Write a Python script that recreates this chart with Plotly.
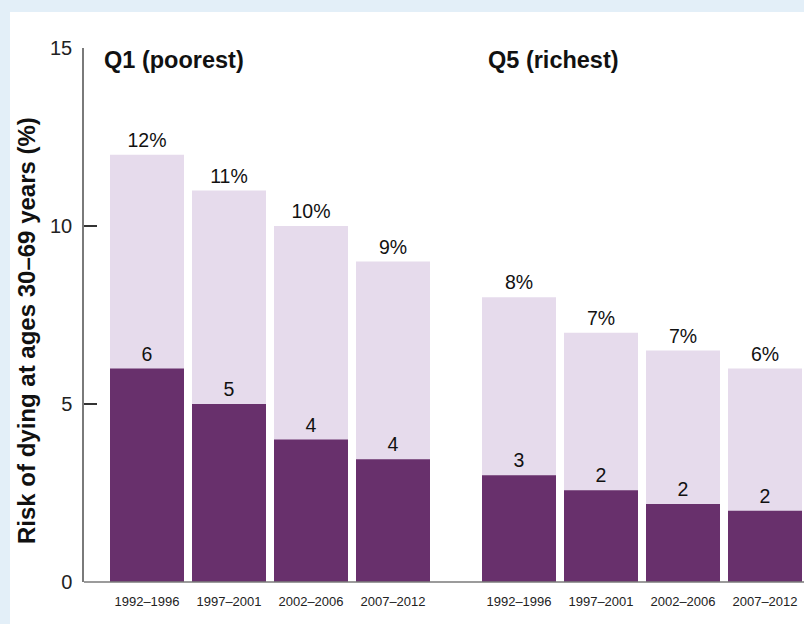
import plotly.graph_objects as go

periods = ["1992–1996", "1997–2001", "2002–2006", "2007–2012"]
q1_total = [12, 11, 10, 9]
q1_total_labels = ["12%", "11%", "10%", "9%"]
q1_dark = [6.0, 5.0, 4.0, 3.45]
q1_dark_labels = ["6", "5", "4", "4"]
q5_total = [8, 7, 6.5, 6]
q5_total_labels = ["8%", "7%", "7%", "6%"]
q5_dark = [3.0, 2.58, 2.19, 2.0]
q5_dark_labels = ["3", "2", "2", "2"]
group_names = ["Q1 (poorest)", "Q5 (richest)"]
y_title = "Risk of dying at ages 30–69 years (%)"

LIGHT = "#E6DBEC"
DARK = "#68306C"
BG = "#E3EFF8"
FONT = "Liberation Sans, Arial, sans-serif"
AXIS = "#7A7A7A"

W, H = 804, 624
L, R, T, B = 84, 0, 48, 42
pw, ph = W - L - R, H - T - B


def px_x(p):
    return (p - L) / pw


def px_y(p):
    return (H - B - p) / ph


fig = go.Figure()

groups = [
    ("x", q1_total, q1_total_labels, q1_dark, q1_dark_labels),
    ("x2", q5_total, q5_total_labels, q5_dark, q5_dark_labels),
]
for xa, tot, tot_lab, dark, dark_lab in groups:
    fig.add_trace(go.Bar(x=periods, y=tot, marker=dict(color=LIGHT, line=dict(width=0)),
                         xaxis=xa, yaxis="y", hoverinfo="skip", showlegend=False))
    fig.add_trace(go.Bar(x=periods, y=dark, marker=dict(color=DARK, line=dict(width=0)),
                         xaxis=xa, yaxis="y", hoverinfo="skip", showlegend=False))
    for vals, labs in ((tot, tot_lab), (dark, dark_lab)):
        fig.add_trace(go.Scatter(x=periods, y=vals, mode="markers+text", text=labs,
                                 textposition="top center",
                                 marker=dict(size=3, opacity=0),
                                 textfont=dict(family=FONT, size=19.5, color="#111"),
                                 xaxis=xa, yaxis="y", hoverinfo="skip", showlegend=False))

slot = 82.0
x1_left_pad = (434 - L) / slot - 4  # extra slots left of first category
fig.update_layout(
    width=W, height=H,
    margin=dict(l=L, r=R, t=T, b=B, pad=0),
    paper_bgcolor=BG, plot_bgcolor="rgba(0,0,0,0)",
    barmode="overlay", bargap=8 / 82,
    font=dict(family=FONT, color="#222"),
    xaxis=dict(domain=[0, px_x(434)], range=[-0.5 - x1_left_pad, 3.5],
               showline=False, showgrid=False, zeroline=False, ticks="",
               tickfont=dict(size=13, color="#222"), ticklabelstandoff=10,
               anchor="y", fixedrange=True),
    xaxis2=dict(domain=[px_x(478), 1], range=[-0.5, 3.5 - 2 / slot],
                showline=False, showgrid=False, zeroline=False, ticks="",
                tickfont=dict(size=13, color="#222"), ticklabelstandoff=10,
                anchor="y", fixedrange=True),
    yaxis=dict(range=[0, 15], tickvals=[0, 5, 10, 15], showgrid=False, zeroline=False,
               showline=True, linecolor=AXIS, linewidth=1.5,
               ticks="inside", ticklen=13, tickwidth=1.5, tickcolor="#333",
               tickfont=dict(size=20, color="#222"), ticklabelstandoff=6,
               anchor="x", fixedrange=True),
)

# white panel
fig.add_shape(type="rect", xref="paper", yref="paper",
              x0=px_x(10), x1=px_x(W + 5), y0=px_y(H + 5), y1=px_y(12),
              fillcolor="white", line=dict(width=0), layer="below")
# continuous x axis baseline
fig.add_shape(type="line", xref="paper", yref="paper", x0=0, x1=1, y0=0, y1=0,
              line=dict(color=AXIS, width=1.5), layer="above")

fig.add_annotation(text=f"<b>{group_names[0]}</b>", xref="paper", yref="paper",
                   x=px_x(102), y=px_y(60), xanchor="left", yanchor="middle",
                   showarrow=False, font=dict(family=FONT, size=23.5, color="#111"))
fig.add_annotation(text=f"<b>{group_names[1]}</b>", xref="paper", yref="paper",
                   x=px_x(486), y=px_y(60), xanchor="left", yanchor="middle",
                   showarrow=False, font=dict(family=FONT, size=23.5, color="#111"))
fig.add_annotation(text=f"<b>{y_title}</b>", xref="paper", yref="paper",
                   x=px_x(26), y=px_y(331), xanchor="center", yanchor="middle",
                   textangle=-90, showarrow=False,
                   font=dict(family=FONT, size=24, color="#111"))

fig.write_html(
    "out.html",
    config={"displayModeBar": False},
    post_script="document.body.style.margin='0';document.body.style.background='" + BG + "';",
)
